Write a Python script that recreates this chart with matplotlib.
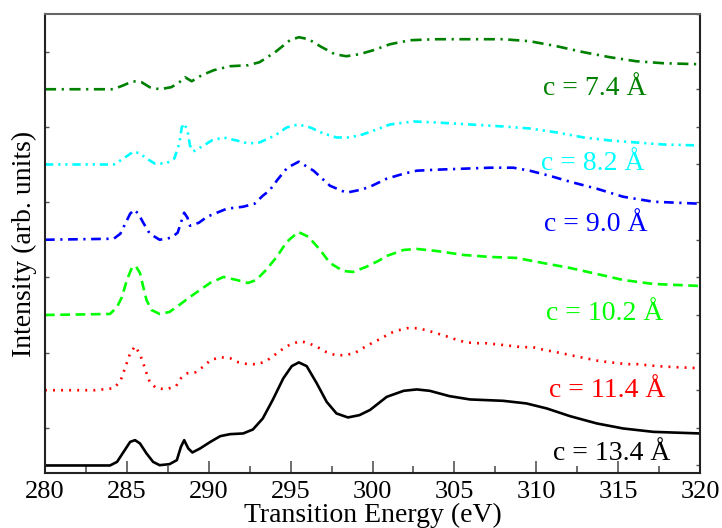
import matplotlib
matplotlib.use("Agg")
import matplotlib.pyplot as plt
from matplotlib.ticker import MultipleLocator
import numpy as np

plt.rcParams['font.family'] = ['Liberation Serif', 'DejaVu Serif']
plt.rcParams['lines.scale_dashes'] = False

# ---- data (energy in eV, intensity heights in arbitrary units above each baseline) ----
e_134 = [280, 282.75, 283.97, 284.4, 284.8, 285.2, 285.5, 285.8, 286.2, 286.6,
         287.0, 287.6, 288.05, 288.3, 288.5, 288.75, 289.0, 289.47, 290.1, 290.7,
         291.3, 292.1, 292.7, 293.3, 293.9, 294.55, 295.07, 295.5, 295.98, 296.6,
         297.2, 297.8, 298.5, 299.2, 299.85, 300.87, 301.9, 302.7, 303.5, 304.7,
         305.95, 307.99, 309.4, 310.64, 312.06, 313.7, 315.3, 317.15, 320]
i_134 = [0, 0, 0, 3.6, 13.6, 23.6, 25.3, 22, 12, 3.6,
         0.3, 1.3, 5.3, 18.6, 25.3, 17, 13, 17, 23.6, 29.3,
         31.3, 32, 36, 47, 65.3, 87, 99.3, 103, 99.3, 82,
         63.6, 52, 48, 50.3, 55.5, 68.6, 74.6, 76, 74.6, 69.3,
         66, 64.6, 62, 57, 49.3, 42, 37, 33.6, 32]

e_114 = [280, 283.05, 284.2, 284.6, 284.8, 284.99, 285.2, 285.5, 285.8, 286.0,
         286.2, 286.4, 286.8, 287.4, 288.0, 288.3, 288.7, 289.2, 289.7, 290.1,
         290.7, 291.3, 291.8, 292.4, 292.97, 293.5, 294.0, 294.5, 295.0, 295.6,
         296.1, 296.65, 297.2, 297.75, 298.3, 298.9, 299.4, 299.95, 300.56, 301.07,
         301.6, 302.1, 302.7, 303.3, 303.9, 304.5, 305.04, 305.65, 306.3, 306.9,
         307.5, 308.1, 308.6, 309.2, 309.8, 310.3, 310.9, 311.55, 312.1, 312.7,
         313.3, 313.9, 314.5, 315.0, 315.6, 316.2, 316.8, 317.45, 318.6, 320]
i_114 = [0, 0, 2, 9, 18, 27, 37, 44, 36, 27,
         17, 8, 2, 1, 4, 12, 17, 18, 24, 30,
         33, 32, 28, 26, 26, 29, 35, 41, 46, 49,
         47, 43, 38, 35, 35, 37, 42, 47, 52, 57,
         60, 62, 62, 60, 57, 54, 51, 48, 47, 47,
         46, 45, 44, 43, 43, 41, 39, 37, 35, 33,
         31, 29, 28, 27, 26, 26, 25, 24, 23, 22]

e_102 = [280, 283.97, 284.4, 284.7, 285.0, 285.3, 285.54, 285.8, 286.0, 286.2,
         286.5, 287.0, 287.6, 288.2, 288.85, 289.47, 290.08, 290.9, 291.7, 292.4,
         292.9, 293.5, 294.15, 294.76, 295.47, 296.1, 296.8, 297.4, 298.2, 298.8,
         299.6, 300.35, 300.87, 301.9, 302.7, 303.9, 305.55, 307.2, 308.8, 310.4,
         312.06, 313.7, 315.3, 317.15, 320]
i_102 = [0, 1, 8, 18, 35, 47, 49, 42, 28, 15,
         5, 1, 3, 10, 18, 25, 32, 38, 35, 32,
         35, 45, 58, 73, 83, 78, 65, 52, 44, 43,
         48, 54, 59, 65, 66, 64, 60, 58, 57, 52,
         47, 41, 35, 31, 29]

e_090 = [280, 284.2, 284.6, 284.9, 285.2, 285.45, 285.7, 286.0, 286.4, 287.0,
         287.7, 288.1, 288.3, 288.5, 288.7, 288.85, 289.4, 289.9, 290.5, 291.1,
         292.1, 292.8, 293.3, 293.7, 294.2, 294.8, 295.5, 296.4, 297.4, 298.4, 299.3,
         299.85, 300.87, 301.9, 302.7, 303.9, 305.55, 307.2, 308.6, 309.6, 310.8,
         312.06, 313.7, 315.3, 317.15, 320]
i_090 = [0, 1, 6, 16, 26, 30, 26, 17, 6, 0,
         2, 7, 17, 27, 22, 14, 17, 23, 27, 31,
         33, 36, 44, 49, 60, 72, 78, 69, 54, 47, 50,
         53, 61, 66, 69, 70, 71, 72, 72, 69, 64,
         58, 51, 43, 38, 36]

e_082 = [280, 284.2, 284.8, 285.4, 285.8, 286.2, 286.7, 287.4, 287.9, 288.2,
         288.35, 288.5, 288.7, 288.85, 289.06, 289.7, 290.18, 290.9, 291.7, 292.4,
         293.1, 294.05, 294.76, 295.47, 296.2, 297.0, 297.8, 298.6, 299.4, 300.26,
         301.07, 302.5, 303.9, 305.95, 307.99, 309.6, 311.25, 312.9, 314.5, 316.1,
         317.76, 320]
i_082 = [0, 0, 6, 13, 11, 6, 1, 1, 6, 21,
         37, 41, 34, 19, 13, 19, 24, 27, 24, 21,
         22, 29, 37, 40, 37, 31, 27, 27, 30, 35,
         40, 43, 42, 40, 38, 36, 32, 27, 24, 22,
         20, 19]

e_074 = [280, 284.17, 284.8, 285.36, 285.9, 286.4, 287.0, 287.7, 288.14, 288.55,
         288.96, 289.57, 290.3, 291.3, 292.4, 293.1, 294.05, 294.96, 295.5, 296.1,
         296.8, 297.7, 298.4, 299.2, 300.05, 301.07, 302.3, 303.9, 305.95, 307.99,
         309.6, 311.25, 312.9, 314.5, 316.1, 317.76, 320]
i_074 = [0, 0, 4, 8, 7, 2, 0, 2, 6, 12,
         8, 14, 19, 23, 24, 27, 37, 49, 52, 50,
         43, 35, 33, 35, 39, 45, 49, 50, 50, 50,
         48, 43, 37, 32, 28, 26, 25]

labels = ["c = 13.4 Å", "c = 11.4 Å", "c = 10.2 Å", "c = 9.0 Å", "c = 8.2 Å", "c = 7.4 Å"]
offsets = [-0.5, 0.5, 1.5, 2.5, 3.5, 4.5]
scale = 75.2

energies = [e_134, e_114, e_102, e_090, e_082, e_074]
intens = [i_134, i_114, i_102, i_090, i_082, i_074]

colors = ['black', '#ff0000', '#00ff00', '#0000ff', '#00ffff', '#008000']
dashes = [None, (1.4, 4.4), (7, 4), (7, 4, 1.6, 4), (6, 3.5, 1.6, 3.5, 1.6, 3.5), (8, 4, 1.6, 4)]
label_pos = [(311.0, -0.43), (310.8, 0.415), (310.6, 1.435), (310.45, 2.61), (310.3, 3.43), (310.4, 4.42)]

fig = plt.figure(figsize=(7.22, 5.28), dpi=100)
ax = fig.add_axes([45/722, 55/528, 655/722, 459/528])

for e, h, off, c, d, lab, (lx, ly) in zip(energies, intens, offsets, colors, dashes, labels, label_pos):
    y = off + np.asarray(h) / scale
    line, = ax.plot(e, y, color=c, lw=1.9, solid_capstyle='butt', dash_capstyle='butt',
                    solid_joinstyle='round')
    if d is not None:
        line.set_dashes(d)
    ax.text(lx, ly, lab, color=c, fontsize=20, ha='left', va='baseline')

ax.set_xlim(280, 320)
ax.set_ylim(-0.6, 5.5)
ax.xaxis.set_major_locator(MultipleLocator(5))
ax.xaxis.set_minor_locator(MultipleLocator(2.5))
ax.yaxis.set_major_locator(MultipleLocator(1))
ax.yaxis.set_minor_locator(MultipleLocator(0.5))
ax.set_yticklabels([])
ax.tick_params(axis='x', which='major', direction='in', length=9, width=1.2, color='#555555',
               top=False, labelsize=19, pad=6)
ax.tick_params(axis='x', which='minor', direction='in', length=5, width=1.2, color='#555555', top=False)
ax.tick_params(axis='y', which='major', direction='in', length=3, width=1.0, color='#555555',
               left=True, right=True, labelleft=False)
ax.tick_params(axis='y', which='minor', direction='in', length=3, width=1.0, color='#555555',
               left=False, right=True)
for s in ['left', 'bottom', 'right']:
    ax.spines[s].set_color('#222222')
    ax.spines[s].set_linewidth(1.5)
ax.spines['top'].set_color('#666666')
ax.spines['top'].set_linewidth(1.5)

ax.set_xlabel('Transition Energy (eV)', fontsize=20, labelpad=0)
ax.set_ylabel('Intensity (arb. units)', fontsize=20, labelpad=2)

fig.savefig('out.png', dpi=100)
